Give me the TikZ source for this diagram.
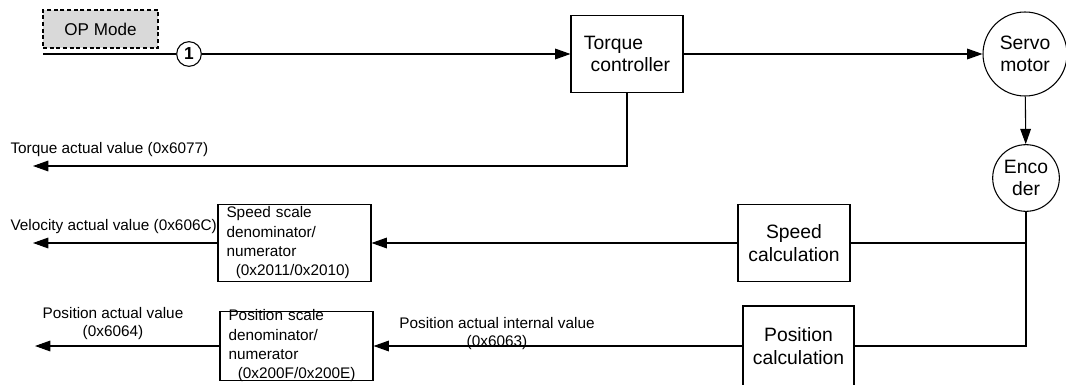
\documentclass[tikz,border=0pt]{standalone}
\usepackage{fontspec}
\setmainfont{Liberation Sans}
\usetikzlibrary{arrows.meta,positioning,shapes.geometric}
\definecolor{opgray}{RGB}{217,217,217}

\begin{document}
\begin{tikzpicture}[
  x=0.75pt, y=-0.75pt,
  line width=0.8pt,
  blk/.style={draw, align=center, minimum width=84pt, minimum height=57.75pt, inner sep=0pt,
    font=\fontsize{14.5pt}{17pt}\selectfont},
  roundbox/.style={draw, circle, align=center, inner sep=0pt,
    font=\fontsize{14.5pt}{16.5pt}\selectfont},
  scalebox/.style={draw, align=left, text width=102pt, inner xsep=6pt, inner ysep=2pt,
    minimum width=114.75pt, font=\fontsize{11.5pt}{14.5pt}\selectfont},
  lbl/.style={inner sep=0pt, align=center, font=\fontsize{11.5pt}{13.5pt}\selectfont},
  arrow/.style={-{Triangle[length=11.5pt, width=8pt]}}
]
\useasboundingbox (0,0) rectangle (1066,385);

% mode input
\node[draw, dashed, line width=1.4pt, dash pattern=on 3pt off 2pt, fill=opgray,
  minimum width=86.25pt, minimum height=28.5pt, inner sep=0pt,
  font=\fontsize{12.8pt}{14pt}\selectfont] (op) at (100.5,29) {OP Mode};
\coordinate (in) at (43,54);
\node[draw, circle, minimum size=18.5pt, inner sep=0pt, font=\bfseries\fontsize{13pt}{13pt}\selectfont] (c1) at (189,54) {1};

% main blocks
\node[blk, align=left] (tc) at (627,54) {Torque\\\hspace{5pt}controller};
\node[roundbox, minimum size=63pt] (servo) at (1025,54) {Servo\\motor};
\node[roundbox, minimum size=50pt] (enc) at (1026,178) {Enco\\der};
\node[blk] (sc) at (794,243) {Speed\\calculation};
\node[blk, minimum width=83.25pt, minimum height=60pt] (pc) at (798.5,346) {Position\\calculation};

% scale blocks
\node[scalebox, minimum height=57.75pt] (sps) at (294.5,243) {Speed scale\\denominator/\\numerator\\\hspace{7pt}(0x2011/0x2010)};
\node[scalebox, minimum height=51pt, inner ysep=-1.5pt] (pps) at (296.5,346) {Position scale\\denominator/\\numerator\\\hspace{7pt}(0x200F/0x200E)};

% outputs
\coordinate (tqout) at (33,166);
\coordinate (velout) at (33,243);
\coordinate (posout) at (35,346);
\coordinate (jspd) at (enc |- sc);
\coordinate (jpos) at (enc |- pc);

\node[lbl, anchor=west] (tqlbl) at (10,150) {Torque actual value (0x6077)};
\node[lbl, anchor=west] (vellbl) at (10,227) {Velocity actual value (0x606C)};
\node[lbl] (poslbl) at (113,324) {Position actual value\\(0x6064)};
\node[lbl] (pilbl) at (497,334) {Position actual internal value\\(0x6063)};

\draw (in) -- (c1);
\draw[arrow] (c1) -- (tc);
\draw[arrow] (tc) -- (servo.west |- tc);
\draw[arrow] (servo) -- (enc);
\draw (enc) -- (jpos) -- (pc);
\draw (jspd) -- (sc);
\draw[arrow] (sc) -- (sps);
\draw[arrow] (sps) -- (velout);
\draw[arrow] (pc) -- (pps);
\draw[arrow] (pps) -- (posout);
\draw[arrow] (tc) |- (tqout);
\end{tikzpicture}
\end{document}
